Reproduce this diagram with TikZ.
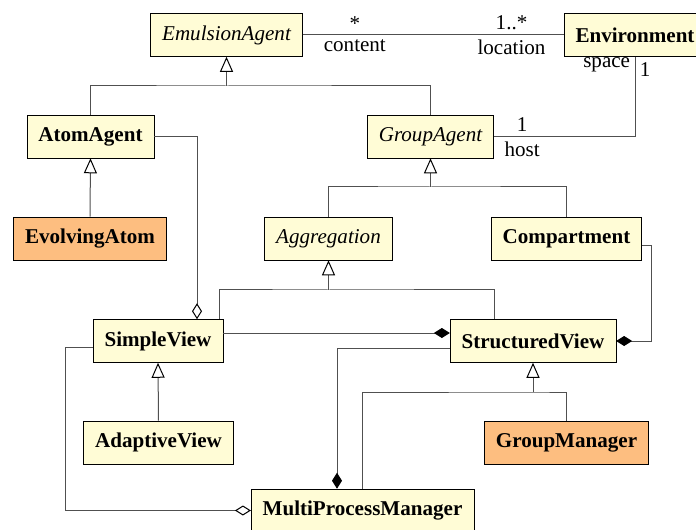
\documentclass[tikz,border=0pt]{standalone}
\usepackage{fontspec}
\setmainfont{Liberation Serif}
\usetikzlibrary{arrows.meta,calc}
\definecolor{classfill}{RGB}{255,252,214}
\definecolor{hotfill}{RGB}{253,190,128}
\definecolor{linkgray}{RGB}{80,80,80}

\begin{document}
\begin{tikzpicture}[x=0.75pt, y=0.75pt,
	every node/.style={font=\fontsize{15.8}{19}\selectfont},
	classbox/.style={draw, fill=classfill, minimum height=32.25pt, inner xsep=8.6pt, font=\fontsize{15.8}{19}\selectfont\bfseries},
	abstractbox/.style={classbox, font=\fontsize{15.8}{19}\selectfont\itshape},
	hotbox/.style={classbox, fill=hotfill},
	link/.style={draw=linkgray, line width=0.75pt},
	gen/.style={link, -{Triangle[open, length=11.25pt, width=9.75pt, color=black]}},
	agg/.style={link, -{Diamond[open, length=12pt, width=7.5pt, color=black]}},
	comp/.style={link, -{Diamond[length=12pt, width=7.5pt, color=black, fill=black]}}]
	\useasboundingbox (0,0) rectangle (696,529);

	\node[abstractbox] (EmulsionAgent) at (226.5,494) {EmulsionAgent};
	\node[classbox] (Environment) at (635,494) {Environment};
	\node[classbox] (AtomAgent) at (90.5,392.5) {AtomAgent};
	\node[abstractbox] (GroupAgent) at (430.5,392.5) {GroupAgent};
	\node[hotbox] (EvolvingAtom) at (90,290.5) {EvolvingAtom};
	\node[abstractbox] (Aggregation) at (328.5,290.5) {Aggregation};
	\node[classbox] (Compartment) at (566.5,290.5) {Compartment};
	\node[classbox] (SimpleView) at (158,188) {SimpleView};
	\node[classbox] (StructuredView) at (533,188) {StructuredView};
	\node[classbox] (AdaptiveView) at (158.5,86.5) {AdaptiveView};
	\node[hotbox] (GroupManager) at (566.5,86.5) {GroupManager};
	\node[classbox] (MultiProcessManager) at (362.5,18.5) {MultiProcessManager};

	% inheritance
	\coordinate (emulsionjoin) at (226.5,443);
	\draw[link] (AtomAgent.north) |- (emulsionjoin) -| (GroupAgent.north);
	\draw[gen] (emulsionjoin) -- (EmulsionAgent.south);
	\draw[gen] (EvolvingAtom.north) -- (AtomAgent.south);
	\coordinate (groupjoin) at (430.5,342);
	\draw[link] (Aggregation.north) |- (groupjoin) -| (Compartment.north);
	\draw[gen] (groupjoin) -- (GroupAgent.south);
	\coordinate (aggjoin) at (328.5,239);
	\draw[link] ($(SimpleView.north)+(61,0)$) |- (aggjoin) -| ($(StructuredView.north)+(-39,0)$);
	\draw[gen] (aggjoin) -- (Aggregation.south);
	\draw[gen] (AdaptiveView.north) -- (SimpleView.south);
	\coordinate (structjoin) at (533,137);
	\draw[link] (MultiProcessManager.north) |- (structjoin) -| (GroupManager.north);
	\draw[gen] (structjoin) -- (StructuredView.south);

	% associations
	\draw[link] (EmulsionAgent.east) -- (Environment.west)
		node[pos=0.2, above] {*} node[pos=0.2, below] {content}
		node[pos=0.8, above] {1..*} node[pos=0.8, below] {location};
	\draw[link] (Environment.south) |- (GroupAgent.east)
		node[pos=0.05, left] {space} node[pos=0.08, right] {1}
		node[pos=0.9, above] {1} node[pos=0.9, below] {host};

	% aggregation and composition
	\draw[agg] (AtomAgent.east) -| ($(SimpleView.north)+(39,0)$);
	\draw[comp] ($(SimpleView.east)+(0,8)$) -- ($(StructuredView.west)+(0,8)$);
	\draw[comp] ($(Compartment.east)+(0,-7.5)$) -- ++(9,0) |- (StructuredView.east);
	\draw[comp] ($(StructuredView.west)+(0,-7)$) -| ($(MultiProcessManager.north)+(-25.5,0)$);
	\draw[agg] ($(SimpleView.west)+(0,-6)$) -- ++(-27,0) |- (MultiProcessManager.west);
\end{tikzpicture}
\end{document}
